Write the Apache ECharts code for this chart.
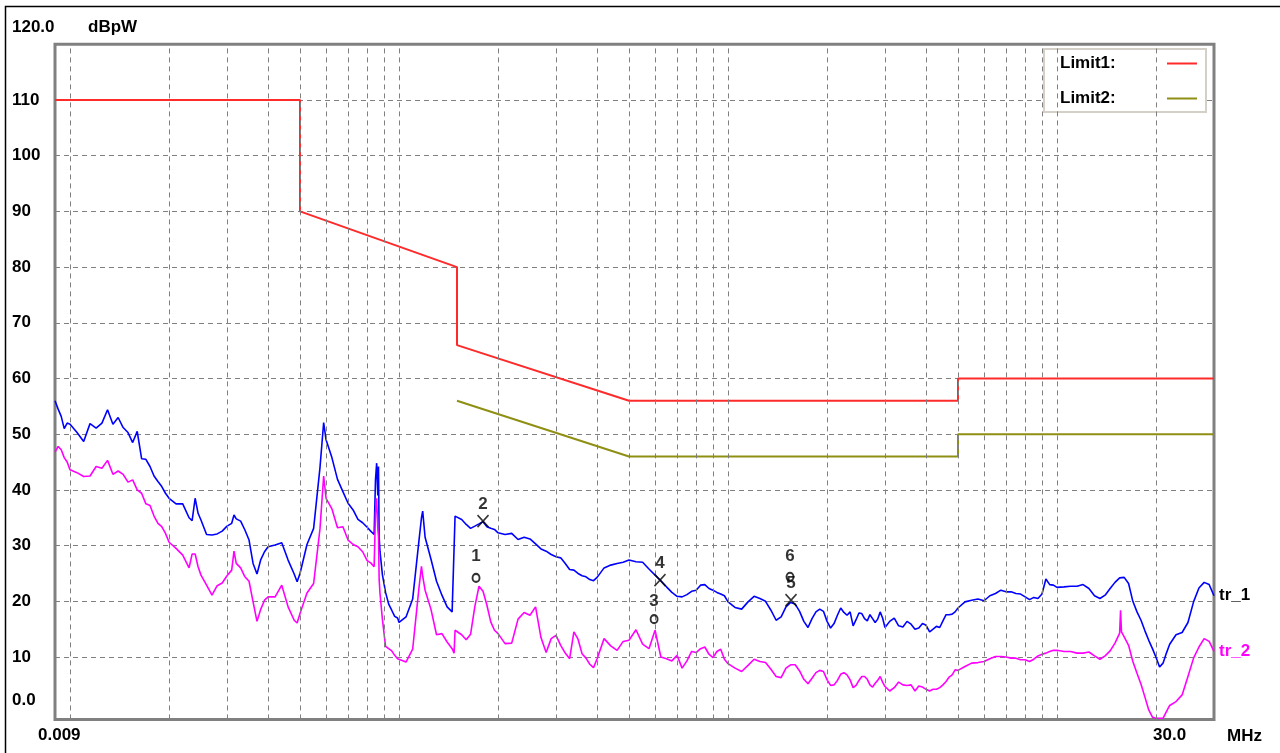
<!DOCTYPE html>
<html><head><meta charset="utf-8">
<script src="https://cdn.jsdelivr.net/npm/echarts@6/dist/echarts.min.js"></script>
<style>html,body{margin:0;padding:0;background:#fff}#c{width:1280px;height:753px}</style>
</head><body><div id="c"></div>
<script>
// ---- data (MHz / dBpW) ----
const freqMHz = [
0.009,0.0092,0.0094,0.0096,0.0098,
0.010,0.0105,0.011,0.0115,0.012,0.0125,0.013,0.0135,0.014,0.0145,0.015,0.0155,0.016,0.0165,0.017,0.0175,0.018,0.0185,0.019,0.0195,
0.020,0.021,0.022,0.023,0.0235,0.024,0.0245,0.025,0.026,0.027,0.028,0.029,0.030,0.031,0.0315,0.032,0.033,0.034,0.035,0.036,0.037,0.038,0.039,
0.040,0.042,0.044,0.046,0.048,0.049,0.050,0.0525,0.055,0.0575,0.059,0.060,0.0625,0.065,0.0675,0.070,0.0725,0.075,0.0775,0.080,0.082,0.084,
0.0848,0.0855,0.0862,0.0866,0.0870,0.0875,0.089,0.091,0.093,0.095,0.097,0.099,
0.100,0.105,0.110,0.115,0.117,0.118,0.120,0.125,0.130,0.135,0.140,0.145,0.147,0.148,0.150,0.155,0.160,0.165,0.170,0.175,0.180,0.185,0.190,0.195,
0.200,0.210,0.220,0.230,0.240,0.250,0.260,0.270,0.280,0.290,0.300,0.310,0.320,0.330,0.340,0.350,0.360,0.370,0.380,0.390,
0.400,0.420,0.440,0.460,0.480,0.500,0.525,0.550,0.575,0.600,0.625,0.650,0.675,0.700,0.725,0.750,0.775,0.800,0.825,0.850,0.875,0.900,0.925,0.950,0.975,
1.00,1.05,1.10,1.15,1.20,1.25,1.30,1.35,1.40,1.45,1.50,1.55,1.60,1.65,1.70,1.75,1.80,1.85,1.90,1.95,
2.0,2.05,2.1,2.15,2.2,2.25,2.3,2.35,2.4,2.45,2.5,2.55,2.6,2.65,2.7,2.75,2.8,2.85,2.9,2.95,
3.0,3.1,3.2,3.3,3.4,3.5,3.6,3.7,3.8,3.9,4.0,4.1,4.2,4.3,4.4,4.5,4.6,4.7,4.8,4.9,
5.0,5.25,5.5,5.75,6.0,6.25,6.5,6.75,7.0,7.25,7.5,7.75,8.0,8.25,8.5,8.75,9.0,9.25,9.5,9.75,
10,10.5,11,11.5,12,12.5,13,13.5,14,14.5,15,15.5,15.6,15.7,16,16.5,17,17.5,18,18.5,19,19.5,20,20.5,21,21.5,22,23,24,25,26,27,28,29,30
];
const tr1 = [
56.0,54.5,53.2,51.0,52.0,
51.8,50.3,48.7,51.9,51.1,52.0,54.4,51.8,53.0,51.2,50.3,48.5,50.5,45.6,45.5,44.2,42.5,41.5,40.6,39.4,
38.5,37.5,37.5,35.0,34.5,38.5,35.8,34.6,32.0,31.9,32.1,32.6,33.5,34.0,35.5,34.8,34.4,32.8,31.0,26.8,24.9,27.5,28.9,
29.8,30.1,30.5,27.4,24.9,23.5,25.0,30.2,33.1,44.0,52.1,49.0,45.8,41.9,39.7,37.6,36.4,34.7,34.1,33.3,32.6,32.0,
41.8,44.8,39.0,44.2,31.6,29.0,24.8,21.6,19.5,18.4,17.3,17.0,
16.2,17.2,20.4,31.0,35.0,36.2,31.5,27.6,23.6,21.1,19.0,18.1,17.8,35.3,35.4,34.7,33.8,33.1,33.5,33.9,34.3,33.4,33.1,32.9,
32.3,32.0,32.2,31.1,31.5,31.2,30.3,29.4,29.0,28.4,28.0,27.8,26.8,25.7,25.6,25.0,24.6,24.4,23.9,23.7,
24.3,26.0,26.5,26.8,27.0,27.4,27.1,27.0,25.8,24.7,23.7,22.6,21.6,20.9,20.8,21.2,21.8,22.0,22.9,23.0,22.3,22.0,21.6,21.3,21.0,
19.9,18.9,18.6,19.9,20.9,20.5,20.0,18.4,16.6,17.2,19.0,19.8,19.5,18.2,16.4,15.3,16.9,18.1,18.6,18.2,
16.4,15.2,16.0,17.5,18.8,18.0,17.5,18.1,15.6,16.7,17.9,17.8,16.9,16.5,17.6,16.9,16.2,16.8,18.1,17.0,
15.3,16.4,17.0,15.6,15.4,16.4,15.9,15.0,15.2,16.0,15.7,14.5,15.0,15.5,15.3,16.5,17.6,17.6,17.7,18.1,
18.8,19.9,20.2,20.4,20.1,21.0,21.4,22.0,21.7,21.7,21.4,21.3,20.8,20.3,20.7,20.5,21.3,24.0,23.0,22.9,
22.5,22.6,22.7,22.7,23.0,22.3,21.0,20.5,21.1,22.3,23.4,24.2,24.2,24.3,24.3,23.2,20.0,18.1,16.6,14.7,13.0,11.5,9.9,8.2,8.9,10.7,12.3,14.0,14.4,16.2,19.9,22.4,23.4,23.0,21.0
];
const tr2 = [
46.8,47.8,47.2,45.8,45.0,
43.6,43.1,42.4,42.5,44.2,43.9,45.3,42.8,43.4,42.8,41.4,41.8,40.0,39.4,37.5,37.2,35.3,34.0,33.4,32.2,
30.6,29.5,28.3,26.0,28.5,28.5,26.2,24.7,22.9,21.1,22.8,23.3,24.6,25.6,29.0,26.8,26.0,24.4,23.6,19.9,16.4,18.6,20.2,
20.8,20.8,22.9,19.0,16.6,16.1,17.8,21.5,23.2,33.0,42.5,38.5,36.6,33.2,33.4,31.0,30.2,29.8,28.9,27.3,26.9,26.2,
35.8,38.5,33.0,31.6,24.0,21.5,16.8,11.9,11.5,11.1,10.3,9.7,
9.5,9.1,11.4,22.5,26.3,24.5,22.0,18.6,14.0,14.2,12.7,11.5,10.7,14.8,14.6,14.0,13.1,14.1,19.1,22.7,21.8,19.3,16.3,14.8,
14.2,12.4,12.5,16.8,18.0,17.5,19.0,13.5,10.8,13.3,13.9,12.1,10.7,9.7,14.5,13.2,10.6,9.8,8.7,8.1,
9.7,13.3,12.0,11.2,12.8,13.0,14.9,12.3,11.5,14.8,10.0,9.7,9.3,10.3,8.0,9.3,11.0,10.8,11.5,11.8,10.5,9.9,11.0,11.4,9.6,
8.8,8.0,7.4,8.5,9.6,9.2,9.0,7.8,6.5,6.3,8.0,8.6,8.6,7.5,6.0,5.2,6.2,7.2,7.6,7.4,
5.9,4.9,5.0,5.8,6.9,7.2,6.8,5.9,4.5,4.9,5.8,6.5,6.5,6.0,5.0,4.6,5.3,5.8,6.5,5.5,
4.7,3.9,4.5,5.5,5.0,4.9,5.0,3.9,4.8,4.6,4.2,3.9,4.2,4.2,4.5,5.0,5.6,6.4,6.8,7.7,
7.6,8.3,8.9,9.0,9.2,9.7,10.1,10.1,10.0,9.8,9.8,9.5,9.5,9.2,9.6,10.2,10.5,10.7,11.0,11.2,
11.2,11.0,11.0,10.7,10.7,10.9,10.2,9.6,10.2,11.1,12.5,14.3,18.4,14.5,13.6,12.1,9.2,7.1,5.1,2.8,0.5,-0.8,-1.0,-1.0,-1.0,0.2,1.3,2.0,3.2,6.5,9.8,11.8,13.3,12.8,11.0
];
const limit1Freq  = [0.009, 0.05, 0.05, 0.15, 0.15, 0.5, 5, 5, 30];
const limit1Level = [110, 110, 90, 80, 66, 56, 56, 60, 60];
const limit2Freq  = [0.15, 0.5, 5, 5, 30];
const limit2Level = [56, 46, 46, 50, 50];
const gridFreqs = [0.01,0.02,0.03,0.04,0.05,0.06,0.07,0.08,0.09,
                   0.1,0.2,0.3,0.4,0.5,0.6,0.7,0.8,0.9,
                   1,2,3,4,5,6,7,8,9,10,20];
const yTickLabels = ['0.0','10','20','30','40','50','60','70','80','90','100','110','120.0'];
const xEndLabels = ['0.009','30.0'];
const markerNames = ['1','2','3','4','5','6'];
const markerFreq  = [0.1714, 0.180, 0.596, 0.621, 1.554, 1.543];
const markerLevel = [24.2, 34.4, 16.8, 23.8, 20.2, 24.4];
const markerKind  = ['o','x','o','x','x','o'];
const markerLabelGap = [8.5, 1.5, 4.5, 1.5, 1.5, 6.5];

// ---- chart ----
const FONT = '"Liberation Sans", Arial, sans-serif';
const zip = (xs, ys) => xs.map((x, i) => [x, ys[i]]);
const chart = echarts.init(document.getElementById('c'), null, {renderer: 'canvas'});
const dashed = {type: [5, 4], color: '#808080', width: 1};
const txt = (text, x, y, fill, align) => ({
  type: 'text', x: x, y: y, silent: true, z: 100,
  style: {text: text, fill: fill || '#000', font: 'bold 17px ' + FONT, align: align || 'left', verticalAlign: 'middle'}
});

chart.setOption({
  animation: false,
  backgroundColor: '#fff',
  grid: [
    {left: 55, right: 66, top: 44.3, bottom: 96, show: false},
    {left: 55, right: 66, top: 44.3, bottom: 33.6, show: true, borderColor: '#808080', borderWidth: 3, backgroundColor: 'transparent'}
  ],
  xAxis: [
    {gridIndex: 0, type: 'log', min: 0.009, max: 30, show: false},
    {gridIndex: 1, type: 'log', min: 0.009, max: 30,
     axisLine: {show: false}, axisTick: {show: false}, axisLabel: {show: false}, splitLine: {show: false}}
  ],
  yAxis: [
    {gridIndex: 0, type: 'value', min: 10, max: 120, interval: 10,
     axisLine: {show: false}, axisTick: {show: false},
     axisLabel: {align: 'left', margin: 43, color: '#000', fontFamily: FONT, fontWeight: 'bold', fontSize: 17,
                 formatter: v => (v >= 120 ? '' : yTickLabels[Math.round(v / 10)])},
     splitLine: {show: true, lineStyle: dashed}},
    {gridIndex: 1, type: 'value', min: -1.2, max: 120,
     axisLine: {show: false}, axisTick: {show: false}, axisLabel: {show: false}, splitLine: {show: false}}
  ],
  legend: {
    data: ['Limit1', 'Limit2'], orient: 'vertical', left: 1044, top: 49, align: 'right',
    icon: 'rect', itemWidth: 30, itemHeight: 2, itemGap: 18, padding: [6, 9, 5, 16],
    backgroundColor: '#fff', borderColor: '#d4d0c8', borderWidth: 2, selectedMode: false,
    formatter: n => '{t|' + n + ':}',
    textStyle: {fontFamily: FONT, fontWeight: 'bold', fontSize: 17, color: '#000',
                rich: {t: {width: 102, align: 'left', fontFamily: FONT, fontWeight: 'bold', fontSize: 17, color: '#000', lineHeight: 19}}}
  },
  graphic: [
    {type: 'rect', silent: true, z: 100, shape: {x: 5.5, y: 6.5, width: 1300, height: 800},
     style: {fill: 'none', stroke: '#000', lineWidth: 1.5}},
    txt(yTickLabels[12], 12, 27),
    txt('dBpW', 88, 27),
    txt(yTickLabels[0], 12, 700),
    txt(xEndLabels[0], 38, 735),
    txt(xEndLabels[1], 1153, 735),
    txt('MHz', 1227, 736)
  ],
  series: [
    {type: 'line', xAxisIndex: 1, yAxisIndex: 1, z: 1, silent: true, data: [[0.009, -50]],
     symbol: 'none', lineStyle: {opacity: 0},
     markLine: {silent: true, symbol: 'none', label: {show: false}, lineStyle: dashed, animation: false,
                data: gridFreqs.map(f => ({xAxis: f}))}},
    {name: 'Limit1', type: 'line', xAxisIndex: 1, yAxisIndex: 1, z: 3, symbol: 'none',
     data: zip(limit1Freq, limit1Level), lineStyle: {color: '#ff2a2a', width: 2}, itemStyle: {color: '#ff2a2a'}},
    {name: 'Limit2', type: 'line', xAxisIndex: 1, yAxisIndex: 1, z: 3, symbol: 'none',
     data: zip(limit2Freq, limit2Level), lineStyle: {color: '#8f8f14', width: 2}, itemStyle: {color: '#8f8f14'}},
    {name: 'tr_1', type: 'line', xAxisIndex: 1, yAxisIndex: 1, z: 4, symbol: 'none',
     data: zip(freqMHz, tr1), lineStyle: {color: '#0000ff', width: 1.6}, itemStyle: {color: '#0000ff'},
     endLabel: {show: true, formatter: 'tr_1', distance: 5, color: '#000', fontFamily: FONT, fontWeight: 'bold', fontSize: 17}},
    {name: 'tr_2', type: 'line', xAxisIndex: 1, yAxisIndex: 1, z: 4, symbol: 'none',
     data: zip(freqMHz, tr2), lineStyle: {color: '#ff00ff', width: 1.6}, itemStyle: {color: '#ff00ff'},
     endLabel: {show: true, formatter: 'tr_2', distance: 5, color: '#ff00ff', fontFamily: FONT, fontWeight: 'bold', fontSize: 17}},
    {name: 'markers', type: 'scatter', xAxisIndex: 1, yAxisIndex: 1, z: 6, silent: true,
     itemStyle: {color: 'rgba(0,0,0,0)', borderColor: '#000', borderWidth: 1.6},
     label: {show: true, position: 'top', color: '#000', fontFamily: FONT, fontWeight: 'bold', fontSize: 17, formatter: p => p.name},
     data: markerNames.map((n, i) => ({
       name: n, value: [markerFreq[i], markerLevel[i]],
       symbol: markerKind[i] === 'x' ? 'path://M0,0L10,11M10,0L0,11' : 'circle',
       symbolSize: markerKind[i] === 'x' ? [11, 12] : [7, 8],
       itemStyle: markerKind[i] === 'x' ? {borderWidth: 1.6} : {borderWidth: 2},
       label: {distance: markerLabelGap[i]}
     }))}
  ]
});
</script></body></html>
